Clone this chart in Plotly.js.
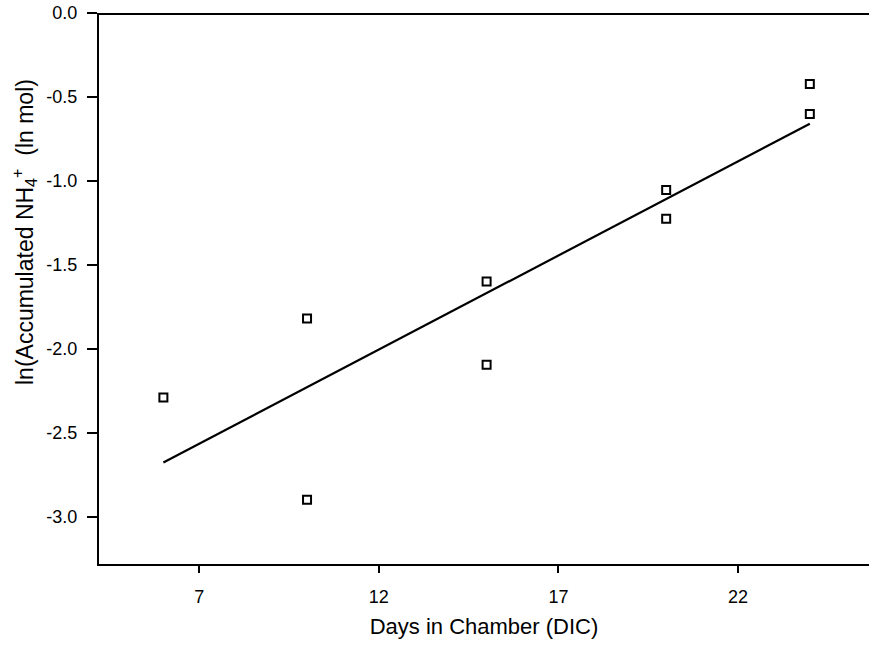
<!DOCTYPE html>
<html>
<head>
<meta charset="utf-8">
<script src="https://cdn.plot.ly/plotly-3.0.1.min.js"></script>
<style>html,body{margin:0;padding:0;background:#fff;}#chart{width:869px;height:645px;}</style>
</head>
<body>
<div id="chart"></div>
<script>
// Observed data (days in chamber, ln accumulated NH4+)
const days = [6, 10, 10, 15, 15, 20, 20, 24, 24];
const lnNH4 = [-2.29, -1.82, -2.90, -1.60, -2.095, -1.055, -1.225, -0.423, -0.601];
// Fitted line endpoints
const fitDays = [6, 24];
const fitLn = [-2.677, -0.66];
// Axis ticks
const xTicks = [7, 12, 17, 22];
const yTicks = [0.0, -0.5, -1.0, -1.5, -2.0, -2.5, -3.0];
const yTickText = ['0.0', '-0.5', '-1.0', '-1.5', '-2.0', '-2.5', '-3.0'];
const xTitle = 'Days in Chamber (DIC)';
const yTitle = 'ln(Accumulated NH<sub>4</sub><sup>+</sup>&nbsp;&nbsp;(ln mol)';

const font = {family: 'Liberation Sans, Arial, sans-serif', color: '#000'};

const traces = [
  {
    x: fitDays, y: fitLn, type: 'scatter', mode: 'lines',
    line: {color: '#000', width: 2.2}, hoverinfo: 'skip', showlegend: false
  },
  {
    x: days, y: lnNH4, type: 'scatter', mode: 'markers',
    marker: {symbol: 'square-open', size: 8, color: '#000', line: {width: 2, color: '#000'}},
    showlegend: false
  }
];

const layout = {
  width: 869, height: 645,
  margin: {l: 99, r: 0, t: 13, b: 81, pad: 0},
  paper_bgcolor: '#fff', plot_bgcolor: '#fff',
  font: Object.assign({size: 18}, font),
  showlegend: false,
  xaxis: {
    range: [4.207, 25.648], tickvals: xTicks, ticktext: xTicks.map(String),
    showgrid: false, zeroline: false,
    showline: true, linecolor: '#000', linewidth: 2,
    ticks: 'outside', ticklen: 7, tickwidth: 2, tickcolor: '#000',
    ticklabelstandoff: 8,
    tickfont: Object.assign({size: 18}, font),
    title: {text: xTitle, font: Object.assign({size: 22}, font), standoff: 13}
  },
  yaxis: {
    range: [-3.282, 0.0], tickvals: yTicks, ticktext: yTickText,
    showgrid: false, zeroline: false,
    showline: true, linecolor: '#000', linewidth: 2,
    ticks: 'outside', ticklen: 10, tickwidth: 2, tickcolor: '#000',
    ticklabelstandoff: 6,
    tickfont: Object.assign({size: 18}, font)
  },
  annotations: [
    {
      text: yTitle, xref: 'paper', yref: 'paper', x: 0, y: 0.6025,
      xshift: -75, xanchor: 'center', yanchor: 'middle', textangle: -90,
      showarrow: false, font: Object.assign({size: 23}, font)
    }
  ],
  shapes: [
    {type: 'line', xref: 'paper', yref: 'y', x0: 0, x1: 1, y0: 0, y1: 0, line: {color: '#000', width: 4}}
  ]
};

Plotly.newPlot('chart', traces, layout, {displayModeBar: false, staticPlot: true});
</script>
</body>
</html>
